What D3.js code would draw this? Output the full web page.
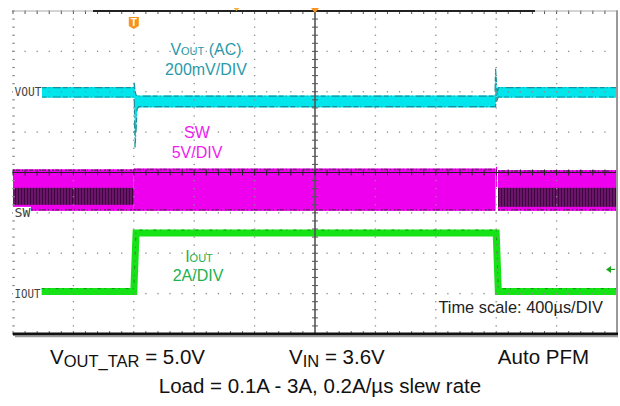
<!DOCTYPE html>
<html>
<head>
<meta charset="utf-8">
<script src="https://cdn.jsdelivr.net/npm/d3@7"></script>
<style>
  body { margin: 0; background: #fff; }
  svg { display: block; font-family: "Liberation Sans", Arial, sans-serif; }
</style>
</head>
<body>
<script>
// scope screen: 10 x 8 divisions, 400us/DIV horizontally
const timeDomain = [-2000, 2000];
const divDomain = [-4, 4];

// VOUT (AC) envelope in mV, 200mV/DIV, ground marker at +2 div
const voutTime = [-1810, -1202, -1197, -1192, -1186, -1178, -1168, 1192, 1196, 1201, 1206, 1214, 2000];
const voutHigh = [24, 24, 48, 10, -12, -16, -18, -18, 118, 60, -10, 24, 24];
const voutLow = [-30, -30, -30, -280, -210, -90, -78, -78, -78, -20, -45, -30, -30];

// SW envelope in V, 5V/DIV, marker at -1 div (three stretches, light load / heavy load / light load)
const swStart = [-2000, -1200, 1212];
const swEnd = [-1200, 1196, 2000];
const swHigh = [5.4, 5.5, 5.3];
const swLow = [0.25, 0.25, 0.25];
const swBurstHigh = [3.1, null, 3.1];
const swBurstLow = [1.0, null, 0.75];

// IOUT in A, 2A/DIV, marker at -3 div
const ioutTime = [-1810, -1200, -1185, 1200, 1214, 2000];
const ioutAmps = [0.1, 0.1, 3.0, 3.0, 0.1, 0.1];

const width = 620;
const height = 406;
const pLeft = 13, pRight = 617, pTop = 11, pBottom = 334;

const svg = d3.select("body").append("svg")
  .attr("width", width)
  .attr("height", height);

const x = d3.scaleLinear().domain(timeDomain).range([pLeft, pRight]);
const y = d3.scaleLinear().domain(divDomain).range([pBottom, pTop]);
const yVout = mv => y(2 + mv / 200);
const ySw = v => y(-1 + v / 5);
const yIout = a => y(-3 + a / 2);

// stripes for the dense switching bursts
const defs = svg.append("defs");
const pat = defs.append("pattern")
  .attr("id", "burst")
  .attr("width", 3).attr("height", 4)
  .attr("patternUnits", "userSpaceOnUse");
pat.append("rect").attr("width", 3).attr("height", 4).attr("fill", "#6a146a");
pat.append("rect").attr("width", 1).attr("height", 4).attr("fill", "#3e063e");

// ---- traces ----
const voutData = voutTime.map((t, i) => ({ t, hi: voutHigh[i], lo: voutLow[i] }));
svg.append("path")
  .datum(voutData)
  .attr("fill", "#00e6ec")
  .attr("d", d3.area().x(d => x(d.t)).y0(d => yVout(d.lo)).y1(d => yVout(d.hi)));
// darker speckled edges of the band
[["hi", 1], ["lo", -1]].forEach(([k, s]) => {
  svg.append("path")
    .datum(voutData)
    .attr("fill", "none")
    .attr("stroke", "#1b8f99")
    .attr("stroke-width", 1.2)
    .attr("stroke-dasharray", "5 2 1 3 8 2")
    .attr("d", d3.line().x(d => x(d.t)).y(d => yVout(d[k]) + s * 0.8));
});

swStart.forEach((t0, i) => {
  const t1 = swEnd[i];
  svg.append("rect")
    .attr("x", x(t0)).attr("width", x(t1) - x(t0))
    .attr("y", ySw(swHigh[i])).attr("height", ySw(swLow[i]) - ySw(swHigh[i]))
    .attr("fill", "#ee00ee");
  if (swBurstHigh[i] !== null) {
    svg.append("rect")
      .attr("x", x(t0)).attr("width", x(t1) - x(t0))
      .attr("y", ySw(swBurstHigh[i])).attr("height", ySw(swBurstLow[i]) - ySw(swBurstHigh[i]))
      .attr("fill", "url(#burst)");
  }
  // ragged top / bottom edge
  [swHigh[i], swLow[i]].forEach((v, k) => {
    svg.append("line")
      .attr("x1", x(t0)).attr("x2", x(t1))
      .attr("y1", ySw(v) + (k ? -1 : 1)).attr("y2", ySw(v) + (k ? -1 : 1))
      .attr("stroke", "#7a1a7a")
      .attr("stroke-width", 1.5)
      .attr("stroke-dasharray", "2 1 4 2 1 3");
  });
});
// short spike at the load release
svg.append("line")
  .attr("x1", x(swEnd[1]) + 1).attr("x2", x(swEnd[1]) + 1)
  .attr("y1", ySw(5.7)).attr("y2", ySw(3.2))
  .attr("stroke", "#ee00ee").attr("stroke-width", 1.2);

svg.append("path")
  .datum(ioutTime.map((t, i) => ({ t, a: ioutAmps[i] })))
  .attr("fill", "none")
  .attr("stroke", "#16e316")
  .attr("stroke-width", 7)
  .attr("d", d3.line().x(d => x(d.t)).y(d => yIout(d.a)));
svg.append("path")
  .datum(ioutTime.map((t, i) => ({ t, a: ioutAmps[i] })))
  .attr("fill", "none")
  .attr("stroke", "#0c9a0c")
  .attr("stroke-width", 1)
  .attr("stroke-dasharray", "3 4 1 6")
  .attr("d", d3.line().x(d => x(d.t)).y(d => yIout(d.a) - 3));

// ---- graticule ----
const grid = svg.append("g").attr("fill", "#8a8a8a");
const minorX = d3.range(0, 10.01, 0.2);
const minorY = d3.range(0, 8.01, 0.2);
d3.range(0, 11).forEach(i => {
  const gx = x(timeDomain[0] + i * 400);
  minorY.forEach(v => {
    grid.append("rect").attr("x", gx - 0.7).attr("y", y(-4 + v) - 0.6).attr("width", i === 0 ? 2.5 : 1.4).attr("height", 1.2);
  });
});
d3.range(0, 9).forEach(j => {
  const gy = y(-4 + j);
  minorX.forEach(v => {
    grid.append("rect").attr("x", x(timeDomain[0] + v * 400) - 0.6).attr("y", gy - 0.7).attr("width", 1.2).attr("height", 1.4);
  });
});

// centre axes with minor ticks
svg.append("line").attr("x1", x(0)).attr("x2", x(0)).attr("y1", pTop).attr("y2", pBottom)
  .attr("stroke", "#555").attr("stroke-width", 1.6);
minorY.forEach(v => {
  svg.append("line").attr("x1", x(0) - 3).attr("x2", x(0) + 3).attr("y1", y(-4 + v)).attr("y2", y(-4 + v))
    .attr("stroke", "#555").attr("stroke-width", 1);
});
svg.append("line").attr("x1", pLeft).attr("x2", pRight).attr("y1", y(0)).attr("y2", y(0))
  .attr("stroke", "#222").attr("stroke-width", 1.2);
minorX.forEach(v => {
  const tx = x(timeDomain[0] + v * 400);
  svg.append("line").attr("x1", tx).attr("x2", tx).attr("y1", y(0) - 3).attr("y2", y(0) + 3)
    .attr("stroke", "#222").attr("stroke-width", 1);
  svg.append("line").attr("x1", tx).attr("x2", tx).attr("y1", pTop).attr("y2", pTop + 3)
    .attr("stroke", "#555").attr("stroke-width", 1);
  svg.append("line").attr("x1", tx).attr("x2", tx).attr("y1", pBottom - 3).attr("y2", pBottom)
    .attr("stroke", "#666").attr("stroke-width", 1);
});

// frame
svg.append("line").attr("x1", pLeft).attr("x2", pRight).attr("y1", pTop).attr("y2", pTop)
  .attr("stroke", "#aaa").attr("stroke-width", 1);
svg.append("line").attr("x1", 93).attr("x2", 535).attr("y1", pTop).attr("y2", pTop)
  .attr("stroke", "#222").attr("stroke-width", 2);
svg.append("line").attr("x1", pRight).attr("x2", pRight).attr("y1", pTop).attr("y2", pBottom)
  .attr("stroke", "#999").attr("stroke-width", 2);
svg.append("line").attr("x1", pLeft).attr("x2", pRight + 1).attr("y1", pBottom).attr("y2", pBottom)
  .attr("stroke", "#111").attr("stroke-width", 3);
svg.append("line").attr("x1", pLeft + 2).attr("x2", pRight + 1).attr("y1", pBottom + 2.5).attr("y2", pBottom + 2.5)
  .attr("stroke", "#999").attr("stroke-width", 1.5);

// channel markers on the left
const markers = [
  { name: "VOUT", y: yVout(0), w: 29 },
  { name: "SW", y: ySw(0), w: 18 },
  { name: "IOUT", y: yIout(0), w: 28 }
];
markers.forEach(m => {
  svg.append("rect").attr("x", pLeft).attr("y", m.y - 6).attr("width", m.w).attr("height", 12).attr("fill", "#fff");
  svg.append("text")
    .attr("x", pLeft + 1.5).attr("y", m.y + 4.5)
    .attr("font-family", "DejaVu Sans Mono, monospace")
    .attr("font-size", 12.5)
    .attr("textLength", m.w - 2)
    .attr("lengthAdjust", "spacingAndGlyphs")
    .attr("fill", "#444")
    .text(m.name);
});

// trigger markers
svg.append("path")
  .attr("d", `M${x(-1200) - 5},17 h10 v9 l-5,3 l-5,-3 z`)
  .attr("fill", "#f7931e");
svg.append("text").attr("x", x(-1200)).attr("y", 26).attr("text-anchor", "middle")
  .attr("font-size", 10).attr("font-weight", "bold").attr("fill", "#fff").text("T");
svg.append("path").attr("d", `M${x(0) - 4},8 h8 l-4,5 z`).attr("fill", "#f7931e");
svg.append("path").attr("d", `M${x(-520) - 3},8 h6 l-3,3 z`).attr("fill", "#f7b040");
svg.append("path").attr("d", `M${pRight - 11},${yIout(1.2)} l5,-3.5 v7 z`).attr("fill", "#1ca81c");
svg.append("line").attr("x1", pRight - 7).attr("x2", pRight - 2).attr("y1", yIout(1.2)).attr("y2", yIout(1.2))
  .attr("stroke", "#1ca81c").attr("stroke-width", 1.2);

// channel annotations
function label(cx, by, main, sub, rest, color) {
  const t = svg.append("text").attr("x", cx).attr("y", by).attr("text-anchor", "middle")
    .attr("font-size", 16).attr("fill", color);
  t.append("tspan").text(main);
  if (sub) t.append("tspan").attr("font-size", 11).text(sub);
  if (rest) t.append("tspan").text(rest);
}
label(206, 55, "V", "OUT", " (AC)", "#2a9aaa");
label(206, 75, "200mV/DIV", null, null, "#2a9aaa");
label(197, 138, "SW", null, null, "#f01cf0");
label(197, 158, "5V/DIV", null, null, "#f01cf0");
label(199, 262, "I", "OUT", null, "#22b14c");
label(198, 281, "2A/DIV", null, null, "#22b14c");

svg.append("text").attr("x", 603).attr("y", 313).attr("text-anchor", "end")
  .attr("font-size", 16.4).attr("fill", "#222").text("Time scale: 400µs/DIV");

// conditions below the screen
const cond = svg.append("g").attr("font-size", 20.5).attr("fill", "#111");
const c1 = cond.append("text").attr("x", 50).attr("y", 364);
c1.append("tspan").text("V");
c1.append("tspan").attr("font-size", 16.5).attr("dy", 3).text("OUT_TAR");
c1.append("tspan").attr("dy", -3).text(" = 5.0V");
const c2 = cond.append("text").attr("x", 289).attr("y", 364);
c2.append("tspan").text("V");
c2.append("tspan").attr("font-size", 16.5).attr("dy", 3).text("IN");
c2.append("tspan").attr("dy", -3).text(" = 3.6V");
cond.append("text").attr("x", 589).attr("y", 364).attr("text-anchor", "end").text("Auto PFM");
cond.append("text").attr("x", 320).attr("y", 393).attr("text-anchor", "middle")
  .text("Load = 0.1A - 3A, 0.2A/µs slew rate");
</script>
</body>
</html>
